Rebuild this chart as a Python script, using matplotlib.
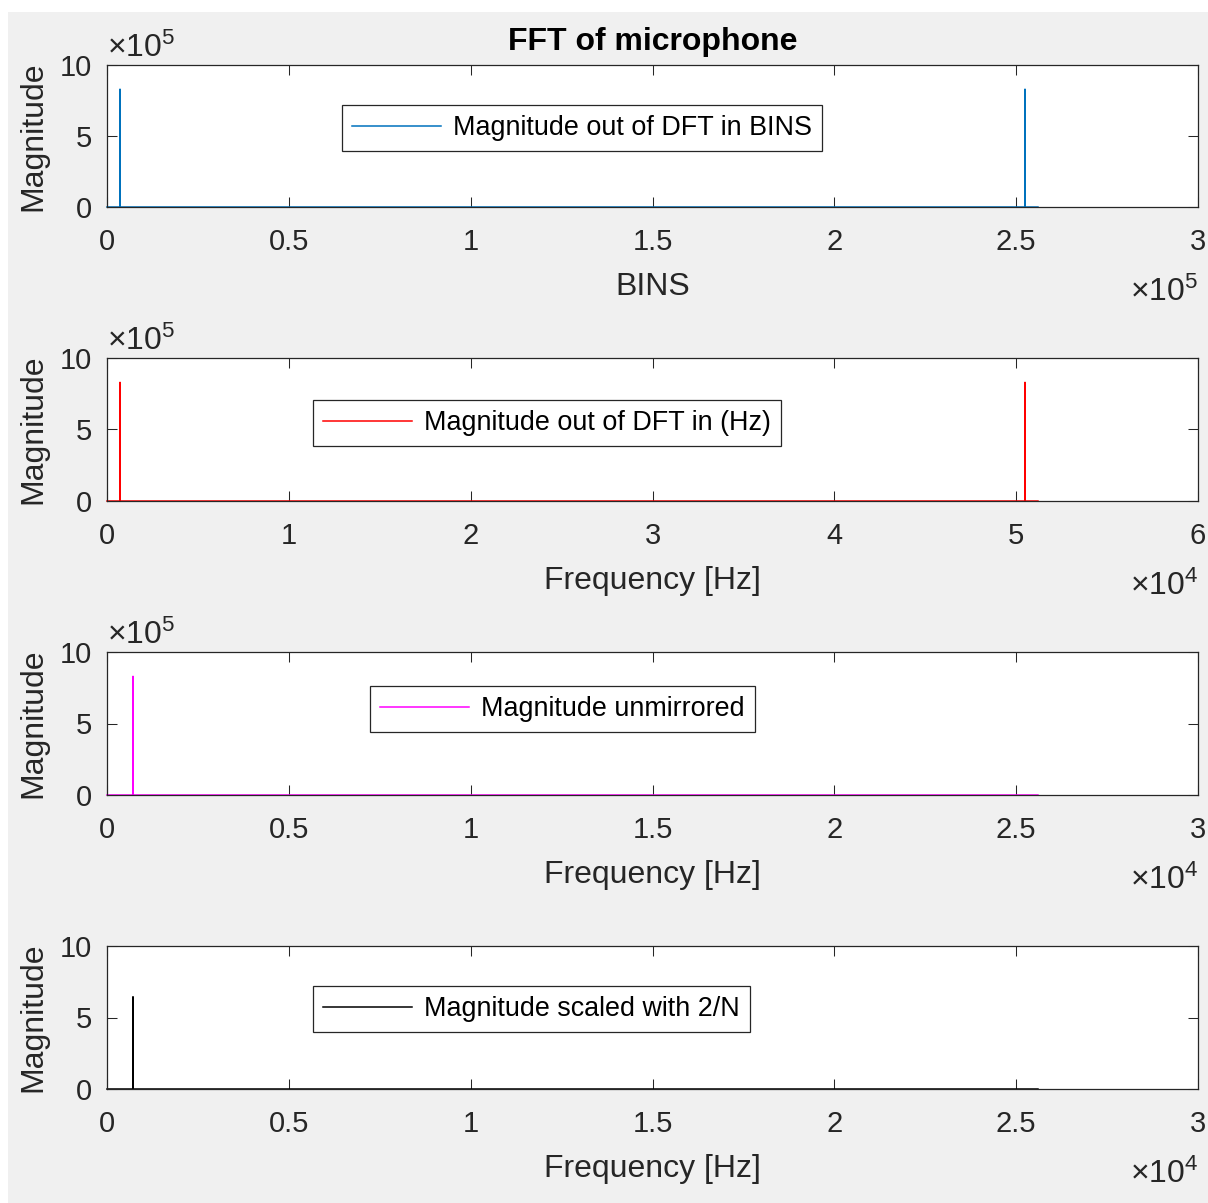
import matplotlib
matplotlib.use("Agg")
import matplotlib.pyplot as plt
from matplotlib.patches import Rectangle

plt.rcParams['font.family'] = ['Liberation Sans', 'DejaVu Sans']
plt.rcParams['mathtext.fontset'] = 'custom'
plt.rcParams['mathtext.rm'] = 'Liberation Sans'
plt.rcParams['mathtext.it'] = 'Liberation Sans:italic'
plt.rcParams['mathtext.bf'] = 'Liberation Sans:bold'

# ---------------- data ----------------
bins_x = [0, 3570, 3575, 3580, 252420, 252425, 252430, 256000]
bins_mag = [0, 0, 8.3e5, 0, 0, 8.3e5, 0, 0]

hz_x = [0, 714, 715, 716, 50484, 50485, 50486, 51200]
hz_mag = [0, 0, 8.3e5, 0, 0, 8.3e5, 0, 0]

unmirr_x = [0, 714, 715, 716, 25600]
unmirr_mag = [0, 0, 8.3e5, 0, 0]

scaled_x = [0, 714, 715, 716, 25600]
scaled_mag = [0, 0, 6.45, 0, 0]

series_labels = ["Magnitude out of DFT in BINS", "Magnitude out of DFT in (Hz)",
                 "Magnitude unmirrored", "Magnitude scaled with 2/N"]
x_labels = ["BINS", "Frequency [Hz]", "Frequency [Hz]", "Frequency [Hz]"]
title = "FFT of microphone"

x_ticks_1 = [0, 0.5e5, 1e5, 1.5e5, 2e5, 2.5e5, 3e5]
x_ticklabels_1 = ["0", "0.5", "1", "1.5", "2", "2.5", "3"]
x_ticks_2 = [0, 1e4, 2e4, 3e4, 4e4, 5e4, 6e4]
x_ticklabels_2 = ["0", "1", "2", "3", "4", "5", "6"]
x_ticks_3 = [0, 0.5e4, 1e4, 1.5e4, 2e4, 2.5e4, 3e4]
x_ticklabels_3 = ["0", "0.5", "1", "1.5", "2", "2.5", "3"]

y_ticks_big = [0, 5e5, 10e5]
y_ticks_small = [0, 5, 10]
y_ticklabels = ["0", "5", "10"]

x_mult = [5, 4, 4, 4]
y_mult = [5, 5, 5, None]

# ---------------- layout ----------------
W, H = 1208, 1203
fig = plt.figure(figsize=(W / 100, H / 100), dpi=100, facecolor='white')
fig.patches.append(Rectangle((8 / W, 0), 1 - 8 / W, 1 - 12 / H, transform=fig.transFigure,
                             facecolor='#f0f0f0', edgecolor='none', zorder=-10))

ax_left, ax_right = 107, 1198
tops = [65, 358, 652, 946]
bottoms = [207, 501, 795, 1089]
legend_pos = [(342, 105), (313, 400), (370, 686), (313, 986)]

panels = [
    (bins_x, bins_mag, '#0072BD', x_ticks_1, x_ticklabels_1, [0, 3e5], y_ticks_big),
    (hz_x, hz_mag, '#FF0000', x_ticks_2, x_ticklabels_2, [0, 6e4], y_ticks_big),
    (unmirr_x, unmirr_mag, '#FF00FF', x_ticks_3, x_ticklabels_3, [0, 3e4], y_ticks_big),
    (scaled_x, scaled_mag, '#000000', x_ticks_3, x_ticklabels_3, [0, 3e4], y_ticks_small),
]

tc = '#262626'
for i, (xs, ys, col, xt, xtl, xlim, yt) in enumerate(panels):
    ax = fig.add_axes([ax_left / W, 1 - bottoms[i] / H, (ax_right - ax_left) / W,
                       (bottoms[i] - tops[i]) / H])
    ax.set_facecolor('white')
    ax.plot(xs, ys, color=col, lw=1.1, label=series_labels[i], clip_on=False)
    ax.set_xlim(xlim)
    ax.set_ylim(yt[0], yt[-1])
    ax.set_xticks(xt)
    ax.set_xticklabels(xtl)
    ax.set_yticks(yt)
    ax.set_yticklabels(y_ticklabels)
    for s in ax.spines.values():
        s.set_color(tc)
        s.set_linewidth(0.9)
    ax.tick_params(axis='both', direction='in', length=7.2, width=0.75, color=tc,
                   labelcolor=tc, labelsize=21, top=True, right=True)
    ax.tick_params(axis='x', pad=15)
    ax.tick_params(axis='y', pad=10.8)
    ax.set_xlabel(x_labels[i], fontsize=23, color=tc, labelpad=11.5)
    ax.set_ylabel("Magnitude", fontsize=23, color=tc)
    ax.yaxis.set_label_coords((48 - ax_left) / (ax_right - ax_left), 0.5)
    if i == 0:
        ax.set_title(title, fontsize=23, fontweight='bold', color='black', pad=10.8)
    lx, ly = legend_pos[i]
    leg = ax.legend(loc='upper left', bbox_to_anchor=(lx / W, 1 - ly / H),
                    bbox_transform=fig.transFigure, borderaxespad=0, fontsize=19.4,
                    fancybox=False, framealpha=1, edgecolor=tc, handlelength=3.3,
                    handletextpad=0.45, borderpad=0.37)
    leg.get_frame().set_linewidth(0.9)
    for t in leg.get_texts():
        t.set_color('black')
    # multipliers
    if y_mult[i] is not None:
        fig.text(ax_left / W, 1 - (tops[i] - 8) / H,
                 r'$\mathregular{\times10^{%d}}$' % y_mult[i],
                 ha='left', va='baseline', fontsize=23, color=tc)
    fig.text(ax_right / W, 1 - (bottoms[i] + 94) / H,
             r'$\mathregular{\times10^{%d}}$' % x_mult[i],
             ha='right', va='baseline', fontsize=23, color=tc)

fig.savefig("out.png", dpi=100, facecolor=fig.get_facecolor())
